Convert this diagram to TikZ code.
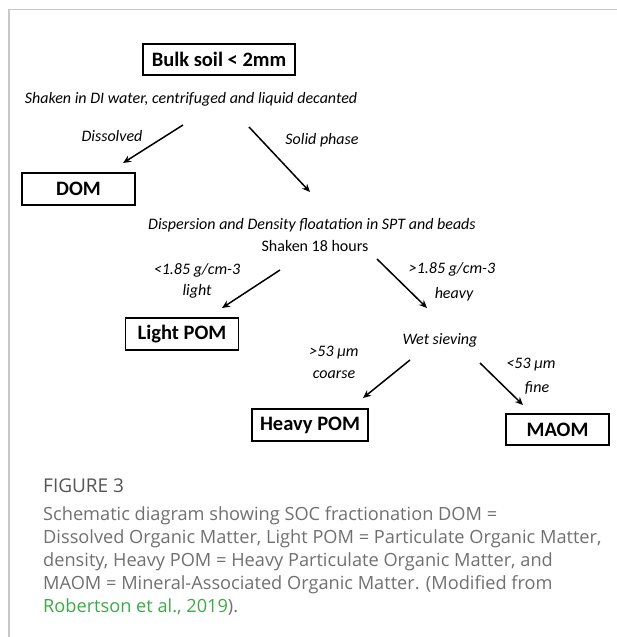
\documentclass[tikz,border=0pt]{standalone}
\usepackage{fontspec}
\setmainfont{Carlito}
\newfontfamily\capfont{Open Sans}
\usepackage{xcolor}
\usetikzlibrary{arrows.meta, positioning}

\definecolor{frameGray}{HTML}{C8C8C8}
\definecolor{capGray}{HTML}{707070}
\definecolor{figGray}{HTML}{555555}
\definecolor{linkGreen}{HTML}{3DAA48}

\tikzset{
    fracbox/.style={draw, line width=1.8pt, font=\fontsize{20.5}{24}\selectfont\bfseries,
        inner sep=0pt, minimum height=32pt},
    steptext/.style={font=\fontsize{16}{19}\selectfont\itshape, inner sep=0pt},
    lbl/.style={font=\fontsize{16}{19}\selectfont\itshape, inner sep=0pt},
    flow/.style={line width=1.5pt, -{Stealth[length=8pt,width=7pt]}},
    captxt/.style={font=\capfont\fontsize{18.2}{22}\selectfont, text=capGray, inner sep=0pt, anchor=base west}
}

\begin{document}
\begin{tikzpicture}[x=1pt, y=-1pt]
    \useasboundingbox (0,0) rectangle (617,637);

    % frame
    \draw[frameGray, line width=1.3pt] (9,637) -- (9,9.5) -- (617,9.5);

    % boxes
    \node[fracbox, minimum width=152pt, minimum height=31pt] (bulk) at (219,59.5) {Bulk soil < 2mm};
    \node[fracbox, minimum width=113pt] (dom) at (78.5,189) {DOM};
    \node[fracbox, minimum width=113pt] (lightpom) at (182,334) {Light POM};
    \node[fracbox, minimum width=116pt] (heavypom) at (310,425) {Heavy POM};
    \node[fracbox, minimum width=103pt, minimum height=31pt] (maom) at (557.5,429.5) {MAOM};

    % process steps
    \node[steptext] (shake) at (191,99) {Shaken in DI water, centrifuged and liquid decanted};
    \node[steptext] (density) at (312,225) {Dispersion and Density floatation in SPT and beads};
    \node[font=\fontsize{16}{19}\selectfont, inner sep=0pt] (shake18) at (315,246) {Shaken 18 hours};
    \node[steptext] (sieve) at (440,340) {Wet sieving};

    % arrow ends
    \coordinate (d1) at (183,125);  \coordinate (d2) at (123,163);
    \coordinate (s1) at (249,127);  \coordinate (s2) at (310,192);
    \coordinate (l1) at (280,270);  \coordinate (l2) at (222,308);
    \coordinate (h1) at (377,259);  \coordinate (h2) at (427,308);
    \coordinate (c1) at (410,360);  \coordinate (c2) at (363,398);
    \coordinate (f1) at (480,363);  \coordinate (f2) at (523,405);

    % connections
    \draw[flow] (d1) -- (d2);
    \draw[flow] (s1) -- (s2);
    \draw[flow] (l1) -- (l2);
    \draw[flow] (h1) -- (h2);
    \draw[flow] (c1) -- (c2);
    \draw[flow] (f1) -- (f2);

    % labels
    \node[lbl] (dissolved) at (112,136) {Dissolved};
    \node[lbl] (solid) at (322,140) {Solid phase};
    \node[lbl] (lightd) at (197,270) {<1.85 g/cm-3};
    \node[lbl] (lightw) at (197,291) {light};
    \node[lbl] (heavyd) at (452,269) {>1.85 g/cm-3};
    \node[lbl] (heavyw) at (454,294) {heavy};
    \node[lbl] (coarsed) at (334,353) {>53 µm};
    \node[lbl] (coarsew) at (334,375) {coarse};
    \node[lbl] (fined) at (531,365) {<53 µm};
    \node[lbl] (finew) at (537,388) {fine};

    % caption
    \node[captxt, font=\capfont\fontsize{19}{22}\selectfont, text=figGray] (fig) at (43,492) {FIGURE 3};
    \foreach \i/\txt in {0/{Schematic diagram showing SOC fractionation DOM =},
                         1/{Dissolved Organic Matter, Light POM = Particulate Organic Matter,},
                         2/{density, Heavy POM = Heavy Particulate Organic Matter, and},
                         3/{MAOM = Mineral-Associated Organic Matter. (Modified from},
                         4/{\textcolor{linkGreen}{Robertson et al., 2019}).}}
        \node[captxt] (cap\i) at (43,520+23*\i) {\txt};
\end{tikzpicture}
\end{document}
